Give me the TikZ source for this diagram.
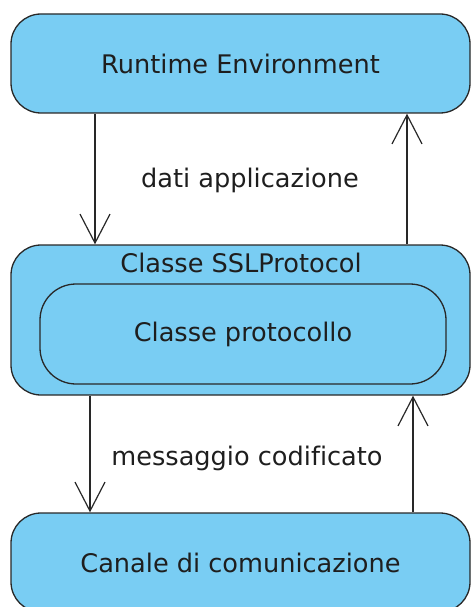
\documentclass[tikz,border=0pt]{standalone}
\usepackage{fontspec}
\setmainfont[Ligatures=NoCommon]{DejaVu Sans}
\usetikzlibrary{arrows.meta}
\definecolor{boxfill}{RGB}{121,205,243}
\definecolor{edge}{RGB}{40,40,40}
\definecolor{txt}{RGB}{30,30,30}
\begin{document}
\begin{tikzpicture}[x=1pt,y=-1pt,
  box/.style={draw=edge, line width=1.3pt, fill=boxfill, rounded corners=30pt,
    inner sep=0pt, minimum width=459pt, text=txt},
  lbl/.style={text=txt, inner sep=0pt},
  flow/.style={draw=edge, line width=1.2pt,
    -{Straight Barb[length=29pt,width=30pt,line width=1.2pt]}},
  every node/.append style={font=\fontsize{25.6}{30}\selectfont}]
  \path[use as bounding box, clip] (0,0) rectangle (472,607);

  % layers
  \node[box, minimum height=99pt] (runtime) at (240.5,63.5) {Runtime Environment};
  \node[box, minimum height=150pt] (ssl) at (240.5,320) {};
  \node[lbl, anchor=base] (ssltitle) at (241,272) {Classe SSLProtocol};
  \node[box, minimum width=406pt, minimum height=100pt, rounded corners=36pt]
    (proto) at (243,334) {Classe protocollo};
  \node[box, minimum height=99pt] (canale) at (240.5,562.5) {Canale di comunicazione};

  % connector columns
  \coordinate (c1) at (95,0);
  \coordinate (c2) at (407,0);
  \coordinate (c3) at (90,0);
  \coordinate (c4) at (413,0);

  \draw[flow] (runtime.south -| c1) -- (ssl.north -| c1);
  \draw[flow] (ssl.north -| c2) -- (runtime.south -| c2);
  \draw[flow] (ssl.south -| c3) -- (canale.north -| c3);
  \draw[flow] (canale.north -| c4) -- (ssl.south -| c4);

  % edge labels
  \node[lbl, anchor=base] (dati) at (250,187) {dati applicazione};
  \node[lbl, anchor=base] (msg) at (247,465) {messaggio codificato};
\end{tikzpicture}
\end{document}
